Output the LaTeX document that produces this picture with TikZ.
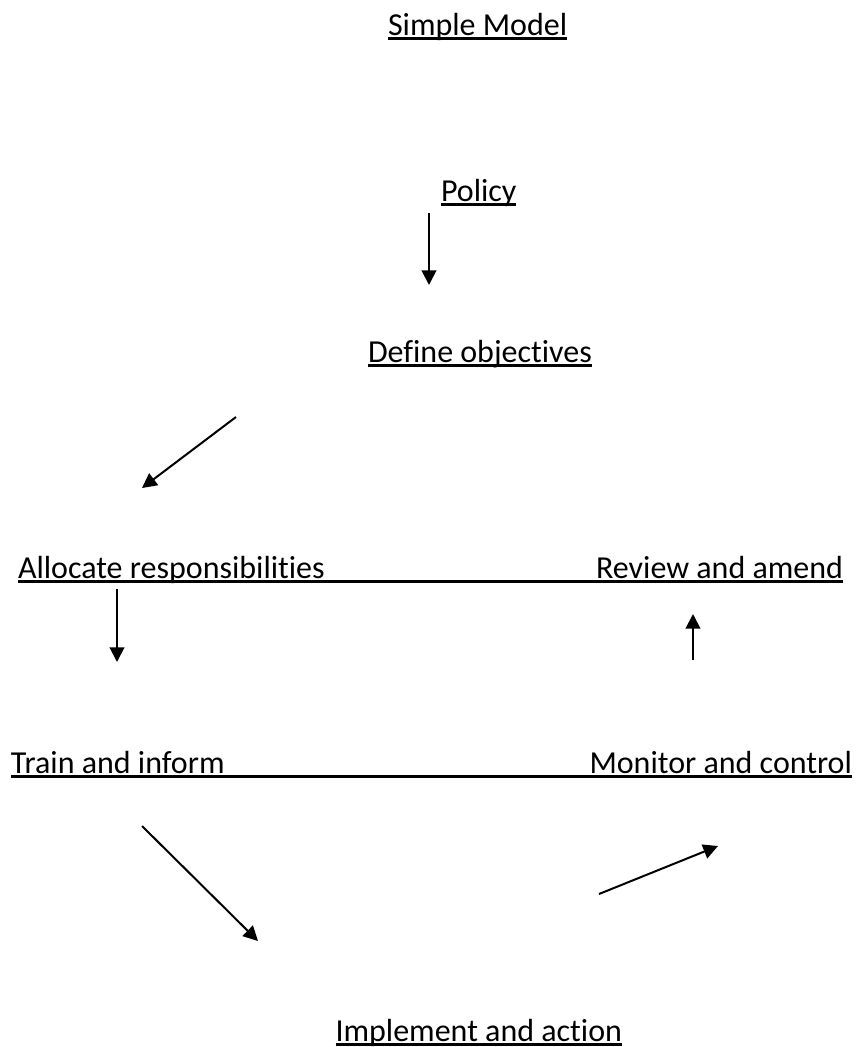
\documentclass[tikz,border=0pt]{standalone}
\usepackage{fontspec}
\setmainfont{Carlito}[RawFeature={-liga;-clig;-calt;-dlig;-rlig}]
\usetikzlibrary{arrows.meta}
\begin{document}
\begin{tikzpicture}[x=0.75pt,y=-0.75pt,
  lbl/.style={inner sep=0pt, outer sep=0pt, font=\fontsize{24}{28}\selectfont, anchor=base west},
  rlbl/.style={lbl, anchor=base east},
  uline/.style={line width=2.6pt},
  conn/.style={line width=1.5pt, -{Triangle[length=11pt,width=11pt]}}]
\useasboundingbox (0,0) rectangle (856,1047);
% labels
\node[lbl] (title) at (388,35) {Simple Model};
\node[lbl] (policy) at (441,201) {Policy};
\node[lbl] (define) at (368,362) {Define objectives};
\node[lbl] (alloc) at (18,578) {Allocate responsibilities};
\node[rlbl] (review) at (843,578) {Review and amend};
\node[lbl] (train) at (11,773) {Train and inform};
\node[rlbl] (monitor) at (852,773) {Monitor and control};
\node[rlbl] (impl) at (622,1041) {Implement and action};
% underlines
\draw[uline] ([yshift=-2.7pt]title.base west) -- ([yshift=-2.7pt]title.base east);
\draw[uline] ([yshift=-2.7pt]policy.base west) -- ([yshift=-2.7pt]policy.base east);
\draw[uline] ([yshift=-2.7pt]define.base west) -- ([yshift=-2.7pt]define.base east);
\draw[uline] ([yshift=-2.7pt]alloc.base west) -- ([yshift=-2.7pt]review.base east);
\draw[uline] ([yshift=-2.7pt]train.base west) -- ([yshift=-2.7pt]monitor.base east);
\draw[uline] ([yshift=-2.7pt]impl.base west) -- ([yshift=-2.7pt]impl.base east);
% arrow end points
\coordinate (p1) at (429,213); \coordinate (p2) at (429,285);
\coordinate (d1) at (236,417); \coordinate (d2) at (142,488);
\coordinate (a1) at (117,589); \coordinate (a2) at (117,662);
\coordinate (r1) at (693,660); \coordinate (r2) at (693,614);
\coordinate (t1) at (142,826); \coordinate (t2) at (258,941);
\coordinate (i1) at (599,894); \coordinate (i2) at (718,846);
% connectors
\draw[conn] (p1) -- (p2);
\draw[conn] (d1) -- (d2);
\draw[conn] (a1) -- (a2);
\draw[conn] (r1) -- (r2);
\draw[conn] (t1) -- (t2);
\draw[conn] (i1) -- (i2);
\end{tikzpicture}
\end{document}
